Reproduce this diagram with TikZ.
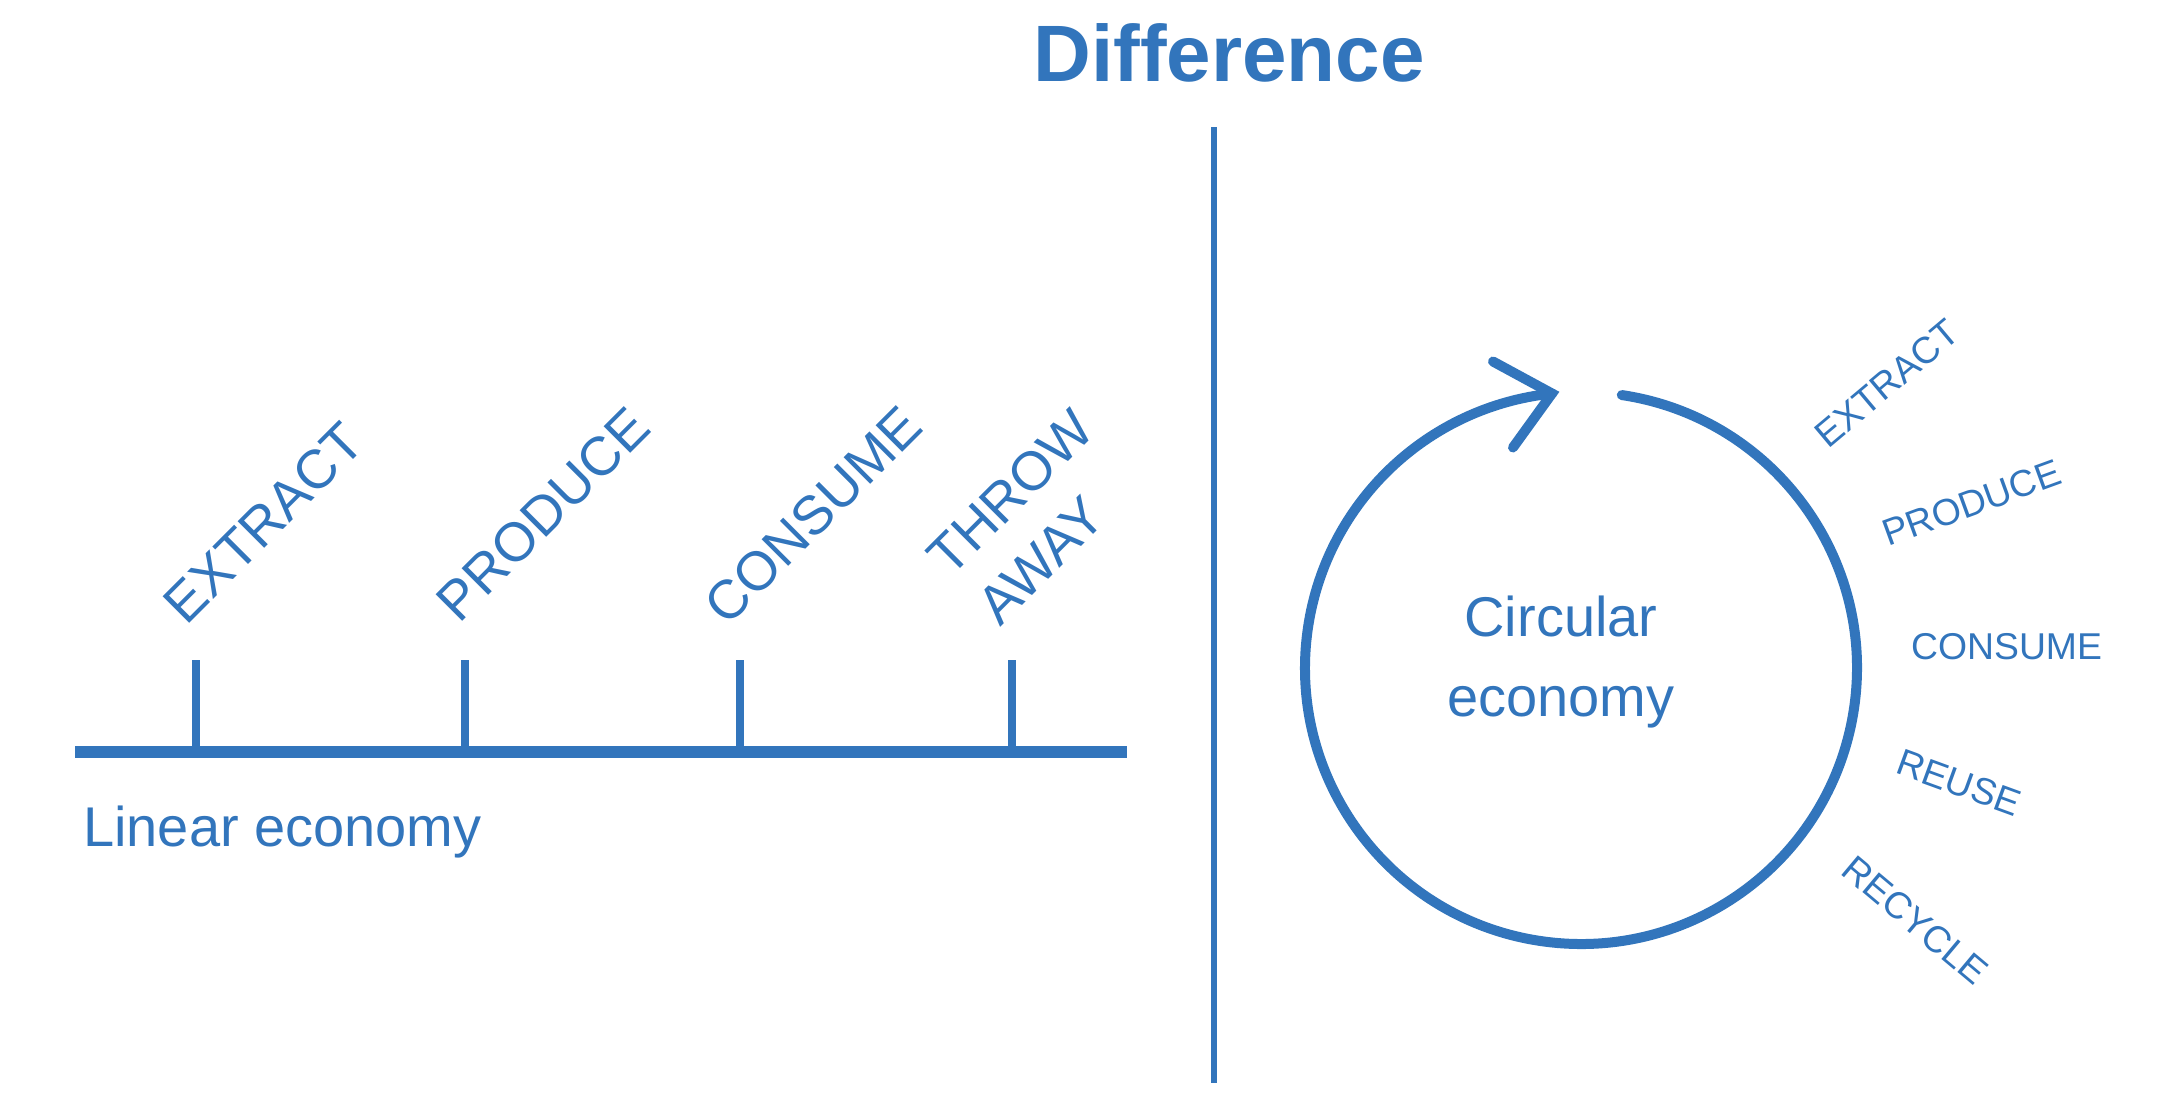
\documentclass[tikz,border=0pt]{standalone}
\usepackage{fontspec}
\setmainfont{Liberation Sans}
\usepackage{tikz}
\definecolor{econblue}{RGB}{50,117,188}

\begin{document}
\begin{tikzpicture}[x=0.75pt,y=0.75pt,yscale=-1,xscale=1,
  every node/.style={text=econblue, inner sep=0pt},
  stagelbl/.style={font=\fontsize{41}{52}\selectfont, rotate=45, anchor=south west, align=left},
  ringlbl/.style={font=\fontsize{28}{34}\selectfont, anchor=base west},
  tickline/.style={draw=econblue, line width=6.5pt},
  ringline/.style={draw=econblue, line width=7.5pt, line cap=round}]
\useasboundingbox (0,0) rectangle (2168,1100);

% Title
\node (title) [anchor=base, font=\fontsize{60}{72}\selectfont\bfseries] at (1229,81) {Difference};

% Divider
\coordinate (divtop) at (1214,127);
\coordinate (divbot) at (1214,1083);
\draw [econblue, line width=4.8pt] (divtop) -- (divbot);

% Linear economy
\coordinate (linstart) at (75,752);
\coordinate (linend) at (1127,752);
\draw [econblue, line width=9pt] (linstart) -- (linend);
\foreach \x/\name in {196/extract,465/produce,740/consume,1012/throw}{
  \coordinate (tick-\name) at (\x,660);
  \draw [tickline] (tick-\name) -- (tick-\name |- linstart);
}
\path (tick-extract) ++(-9,-33) node (lin-extract) [stagelbl] {EXTRACT};
\path (tick-produce) ++(-5,-35) node (lin-produce) [stagelbl] {PRODUCE};
\path (tick-consume) ++(-12,-32) node (lin-consume) [stagelbl] {CONSUME};
\path (tick-throw) ++(-12,-32) node (lin-throw) [stagelbl] {THROW\\AWAY};
\node (lintext) [anchor=base west, font=\fontsize{42}{50}\selectfont] at (83,846) {Linear economy};

% Circular economy
\coordinate (ringc) at (1581,668);
\draw [ringline] (ringc) ++(-81.5:276) arc[start angle=-81.5, end angle=264, radius=276];
\coordinate (arrowtip) at (1552,393.5);
\draw [ringline, line join=miter, shift={(arrowtip)}] (-59,-32) -- (0,0) -- (-39,54);
\node (circtext) [align=center, font=\fontsize{42}{60}\selectfont] at (1561,662) {Circular\\economy};
\foreach \a/\t in {40/EXTRACT,20/PRODUCE,0/CONSUME,-20/REUSE,-40/RECYCLE}
  \path (ringc) ++({-1.5-(\a)}:330) node (ring-\t) [ringlbl, rotate=\a] {\t};

\end{tikzpicture}
\end{document}
